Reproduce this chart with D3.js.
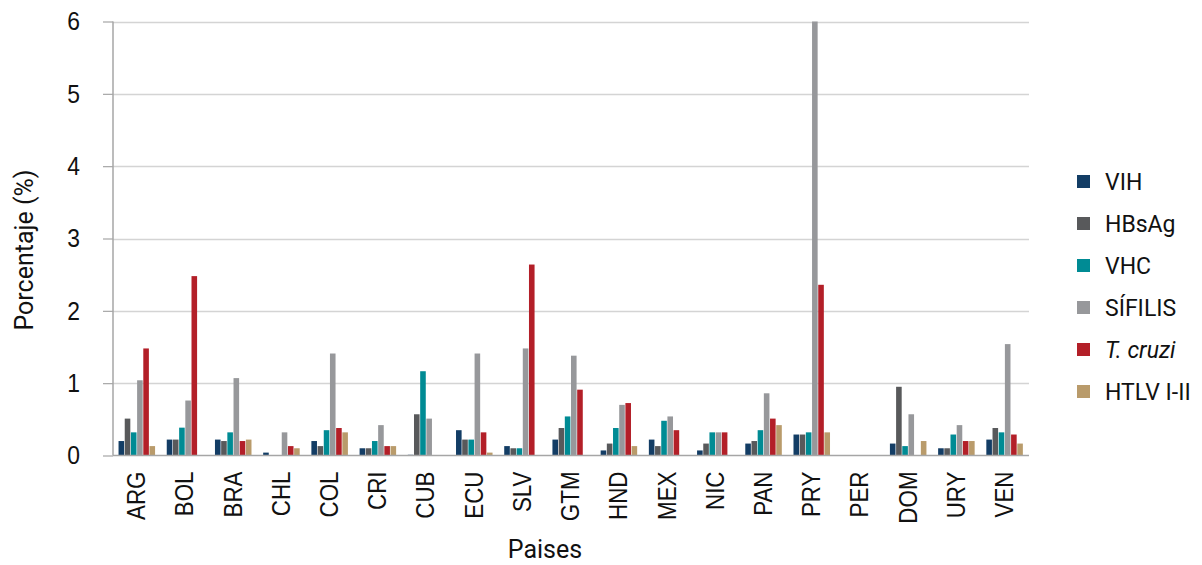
<!DOCTYPE html>
<html>
<head>
<meta charset="utf-8">
<script src="https://cdn.jsdelivr.net/npm/d3@7/dist/d3.min.js"></script>
<style>
  html, body { margin: 0; padding: 0; background: #fff; }
  svg { display: block; font-family: Roboto, "Liberation Sans", sans-serif; }
</style>
</head>
<body>
<svg id="chart" width="1202" height="565"></svg>
<script>
const categories = ["ARG","BOL","BRA","CHL","COL","CRI","CUB","ECU","SLV","GTM","HND","MEX","NIC","PAN","PRY","PER","DOM","URY","VEN"];
const seriesNames = ["VIH","HBsAg","VHC","SÍFILIS","T. cruzi","HTLV I-II"];
const vih     = [0.20,0.22,0.22,0.04,0.20,0.10,0.01,0.35,0.13,0.22,0.07,0.22,0.07,0.165,0.29,0,0.165,0.10,0.22];
const hbsag   = [0.51,0.22,0.20,0.005,0.13,0.10,0.57,0.22,0.10,0.38,0.165,0.13,0.165,0.20,0.29,0,0.95,0.10,0.38];
const vhc     = [0.32,0.385,0.32,0.005,0.35,0.20,1.165,0.22,0.10,0.54,0.38,0.48,0.32,0.35,0.32,0,0.13,0.29,0.32];
const sifilis = [1.04,0.76,1.07,0.32,1.41,0.42,0.51,1.41,1.48,1.38,0.70,0.54,0.32,0.86,6.0,0,0.57,0.42,1.54];
const tcruzi  = [1.48,2.48,0.20,0.13,0.38,0.13,0,0.32,2.64,0.91,0.725,0.35,0.32,0.51,2.36,0,0,0.20,0.29];
const htlv    = [0.13,0,0.22,0.10,0.32,0.13,0,0.04,0,0,0.13,0,0,0.42,0.32,0,0.20,0.20,0.165];
const yTicks  = [0,1,2,3,4,5,6];
const colors  = ["#133d65","#58595b","#008b94","#97989b","#b31f28","#b99b6b"];

const seriesValues = [vih, hbsag, vhc, sifilis, tcruzi, htlv];

const svg = d3.select("#chart");
const margin = {left: 113, right: 1029, top: 21.5, bottom: 455.5};

const x = d3.scaleBand().domain(categories).range([margin.left, margin.right]).paddingInner(0.23).paddingOuter(0.115);
const xs = d3.scaleBand().domain(seriesNames).range([0, x.bandwidth()]).padding(0);
const y = d3.scaleLinear().domain([0, 6]).range([margin.bottom, margin.top]);

// gridlines
svg.append("g").selectAll("line").data(yTicks.filter(d => d > 0)).join("line")
  .attr("x1", margin.left).attr("x2", margin.right)
  .attr("y1", d => Math.round(y(d)) + 0.5).attr("y2", d => Math.round(y(d)) + 0.5)
  .attr("stroke", "#d4d4d4").attr("stroke-width", 1.5);

// y ticks & labels
const yAxis = d3.axisLeft(y).tickValues(yTicks).tickSize(10).tickPadding(0).tickFormat(d3.format("d"));
const gy = svg.append("g").attr("transform", `translate(${margin.left},0)`).call(yAxis);
gy.select(".domain").remove();
gy.selectAll(".tick line").attr("stroke", "#a6a6a6").attr("stroke-width", 1.2);
gy.selectAll(".tick text").attr("font-size", 26).attr("fill", "#111")
  .attr("x", 0).attr("transform", "translate(-33,0) scale(0.88,1)");

// bars
const data = [];
categories.forEach((c, i) => seriesNames.forEach((s, j) => data.push({c, s, j, v: seriesValues[j][i]})));
svg.append("g").selectAll("rect").data(data.filter(d => d.v > 0)).join("rect")
  .attr("x", d => x(d.c) + xs(d.s))
  .attr("width", xs.bandwidth() - 0.6)
  .attr("y", d => y(d.v))
  .attr("height", d => y(0) - y(d.v))
  .attr("fill", d => colors[d.j]);

// axis lines
svg.append("line").attr("x1", margin.left).attr("x2", margin.left).attr("y1", margin.top).attr("y2", margin.bottom)
  .attr("stroke", "#a6a6a6").attr("stroke-width", 1.5);
svg.append("line").attr("x1", margin.left).attr("x2", margin.right).attr("y1", margin.bottom).attr("y2", margin.bottom)
  .attr("stroke", "#a6a6a6").attr("stroke-width", 1.5);

// x labels
const xAxis = d3.axisBottom(x).tickSize(0).tickPadding(0);
const gx = svg.append("g").attr("transform", `translate(0,${margin.bottom})`).call(xAxis);
gx.select(".domain").remove();
gx.selectAll(".tick text")
  .attr("font-size", 26).attr("fill", "#111")
  .attr("text-anchor", "end").attr("dy", "0.35em")
  .attr("transform", "translate(-1,16) rotate(-90) scale(0.86,1)")
  .attr("x", 0).attr("y", 0);

// axis titles
svg.append("text").attr("transform", "translate(33,250) rotate(-90)")
  .attr("text-anchor", "middle").attr("font-size", 25).attr("fill", "#111").text("Porcentaje (%)");
svg.append("text").attr("x", 545).attr("y", 558)
  .attr("text-anchor", "middle").attr("font-size", 25).attr("fill", "#111").text("Paises");

// legend
const lg = svg.append("g").attr("transform", "translate(1077,175)");
const items = lg.selectAll("g").data(seriesNames).join("g").attr("transform", (d, i) => `translate(0,${i * 42})`);
items.append("rect").attr("width", 13).attr("height", 13).attr("fill", (d, i) => colors[i]);
items.append("text").attr("x", 28).attr("y", 6.5).attr("dy", "0.35em").attr("font-size", 23).attr("fill", "#111")
  .attr("font-style", d => d === "T. cruzi" ? "italic" : "normal")
  .text(d => d);
</script>
</body>
</html>
